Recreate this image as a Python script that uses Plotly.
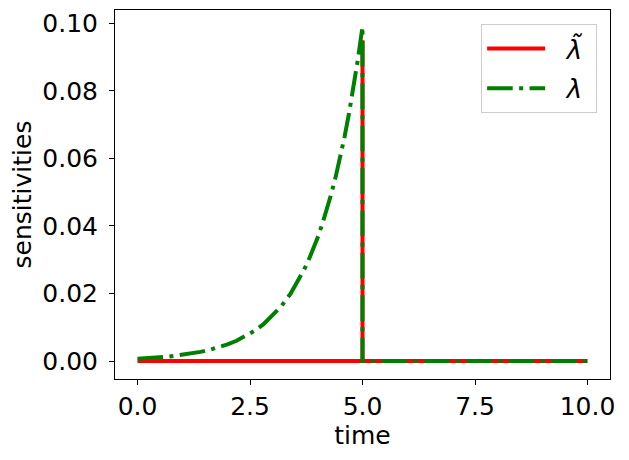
import plotly.graph_objects as go

# lambda (green, dash-dot): values
lam_t = [0.0, 0.2, 0.4, 0.6, 0.8, 1.0, 1.2, 1.4, 1.6, 1.8, 2.0, 2.2, 2.4, 2.6,
         2.8, 3.0, 3.2, 3.4, 3.5, 3.6, 3.7, 3.8, 3.9, 4.0, 4.1, 4.2, 4.3, 4.4,
         4.5, 4.6, 4.7, 4.8, 4.9, 5.0, 5.0, 10.0]
lam_v = [0.0007, 0.0008, 0.0010, 0.0012, 0.0015, 0.0018, 0.0022, 0.0027, 0.0033,
         0.0040, 0.0049, 0.0060, 0.0073, 0.0089, 0.0109, 0.0134, 0.0163, 0.0199,
         0.0221, 0.0244, 0.0270, 0.0298, 0.0330, 0.0364, 0.0403, 0.0445, 0.0492,
         0.0543, 0.0600, 0.0663, 0.0733, 0.0810, 0.0895, 0.0990, 0.0, 0.0]

# lambda tilde (red, solid)
lt_t = [0.0, 5.0, 5.0, 5.0, 10.0]
lt_v = [0.0, 0.0, 0.095, 0.0, 0.0]

x_ticks = [0.0, 2.5, 5.0, 7.5, 10.0]
y_ticks = [0.00, 0.02, 0.04, 0.06, 0.08, 0.10]

fig = go.Figure()
fig.add_trace(go.Scatter(x=lt_t, y=lt_v, mode="lines",
                         name="\u00a0\u00a0<i>λ̃</i>\u00a0",
                         legendgroup="a",
                         line=dict(color="red", width=4)))
fig.add_trace(go.Scatter(x=lam_t, y=lam_v, mode="lines",
                         name="\u00a0\u00a0<i>λ</i>\u00a0",
                         legendgroup="b",
                         line=dict(color="green", width=4,
                                   dash="25.6px,6.4px,4px,6.4px")))

axis_common = dict(showgrid=False, zeroline=False, showline=True, mirror=True,
                   linecolor="black", linewidth=1, ticks="outside", ticklen=5,
                   tickcolor="black", tickfont=dict(size=25, color="black"),
                   automargin=False)

fig.update_layout(
    width=621, height=452,
    margin=dict(l=107, r=19, t=2, b=81),
    paper_bgcolor="white", plot_bgcolor="white",
    font=dict(family="DejaVu Sans", color="black"),
    xaxis=dict(range=[-0.5, 10.5], tickvals=x_ticks,
               ticktext=[f"{v:.1f}" for v in x_ticks],
               title=dict(text="time", font=dict(size=25), standoff=4),
               **axis_common),
    yaxis=dict(range=[-0.00533, 0.10394], tickvals=y_ticks,
               ticktext=[f"{v:.2f}" for v in y_ticks],
               ticklabelstandoff=6,
               title=dict(text="sensitivities", font=dict(size=25), standoff=10),
               **axis_common),
    legend=dict(x=0.974, y=0.962, xanchor="right", yanchor="top",
                bgcolor="white", bordercolor="#cccccc", borderwidth=1,
                font=dict(size=26, family="DejaVu Sans"), itemwidth=58,
                tracegroupgap=3),
    showlegend=True,
)

fig.write_html("out.html")
